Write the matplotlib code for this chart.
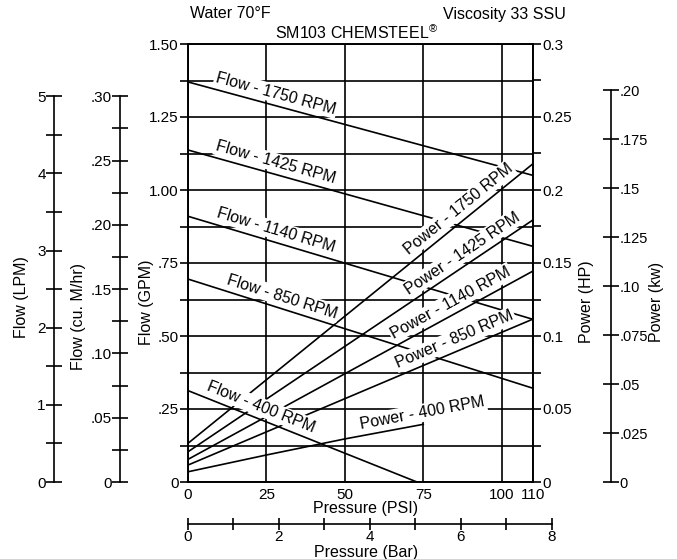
import matplotlib
matplotlib.use("Agg")
import matplotlib.pyplot as plt
import numpy as np

plt.rcParams["font.family"] = ["Liberation Sans", "DejaVu Sans"]

# flow curves: pressure (PSI) -> flow (GPM)
flow_psi = [0, 110]
flow_1750 = [1.37, 1.05]
flow_1425 = [1.137, 0.807]
flow_1140 = [0.91, 0.557]
flow_850 = [0.695, 0.321]
flow_400_psi = [0, 73]
flow_400 = [0.313, 0.0]

# power curves: pressure (PSI) -> power (HP)
power_psi = [0, 110]
power_1750 = [0.0265, 0.218]
power_1425 = [0.0207, 0.1795]
power_1140 = [0.0155, 0.1445]
power_850 = [0.0116, 0.1116]
power_400_psi = [0, 25, 50, 75]
power_400 = [0.007, 0.0185, 0.0295, 0.0395]

psi_ticks = [0, 25, 50, 75, 100, 110]
gpm_ticks = [0, 0.25, 0.5, 0.75, 1.0, 1.25, 1.5]
gpm_labels = ["0", ".25", ".50", ".75", "1.00", "1.25", "1.50"]
hp_ticks = [0, 0.05, 0.1, 0.15, 0.2, 0.25, 0.3]
hp_labels = ["0", "0.05", "0.1", "0.15", "0.2", "0.25", "0.3"]
lpm_ticks = [0, 1, 2, 3, 4, 5]
m3h_ticks = [0, 0.05, 0.10, 0.15, 0.20, 0.25, 0.30]
m3h_labels = ["0", ".05", ".10", ".15", ".20", ".25", ".30"]
kw_ticks = [0, 0.025, 0.05, 0.075, 0.10, 0.125, 0.15, 0.175, 0.20]
kw_labels = ["0", ".025", ".05", ".075", ".10", ".125", ".15", ".175", ".20"]
bar_ticks = [0, 2, 4, 6, 8]

LPM_PER_GPM = 3.7854
M3H_PER_GPM = 0.22712
KW_PER_HP = 0.7457
PSI_PER_BAR = 14.5038

W, H = 677, 559
LW = 1.2
FS = 11.5
TFS = 11


def px_rect(x0, y0, x1, y1):
    return [x0 / W, 1 - y1 / H, (x1 - x0) / W, (y1 - y0) / H]


fig = plt.figure(figsize=(W / 100, H / 100), dpi=100)
X0, X1, Y0, Y1 = 188, 533, 44, 482
ax = fig.add_axes(px_rect(X0, Y0, X1, Y1))
ax.set_xlim(0, 110)
ax.set_ylim(0, 1.5)
for s in ax.spines.values():
    s.set_linewidth(LW)
ax.set_xticks(psi_ticks)
ax.set_xticklabels([str(t) for t in psi_ticks])
ax.set_yticks(gpm_ticks)
ax.set_yticklabels(gpm_labels)
ax.set_yticks(np.arange(0.125, 1.5, 0.25), minor=True)
ax.tick_params(axis="x", length=0, pad=4, labelsize=TFS)
ax.tick_params(axis="y", which="both", direction="out", length=5.5,
               width=LW, labelsize=TFS, pad=1)
ax.grid(True, which="both", color="black", lw=LW)
ax.set_axisbelow(True)

for ys in [flow_1750, flow_1425, flow_1140, flow_850]:
    ax.plot(flow_psi, ys, color="black", lw=LW, zorder=2)
ax.plot(flow_400_psi, flow_400, color="black", lw=LW, zorder=2)

axp = ax.twinx()
axp.set_ylim(0, 0.3)
axp.set_yticks(hp_ticks)
axp.set_yticklabels(hp_labels)
axp.set_yticks(np.arange(0.025, 0.3, 0.05), minor=True)
axp.tick_params(axis="y", which="both", direction="out", length=5.5,
                width=LW, labelsize=TFS, pad=1.5)
for s in axp.spines.values():
    s.set_linewidth(LW)
for ys in [power_1750, power_1425, power_1140, power_850]:
    axp.plot(power_psi, ys, color="black", lw=LW, zorder=2)
axp.plot(power_400_psi, power_400, color="black", lw=LW, zorder=2)


def place_label(src, xs, ys, psi, text, off=3.0):
    y = np.interp(psi, xs, ys)
    i = min(max(np.searchsorted(xs, psi) - 1, 0), len(xs) - 2)
    p0 = src.transData.transform((xs[i], ys[i]))
    p1 = src.transData.transform((xs[i + 1], ys[i + 1]))
    ang = np.arctan2(p1[1] - p0[1], p1[0] - p0[0])
    axp.annotate(text, xy=(psi, y), xycoords=src.transData,
                 xytext=(-np.sin(ang) * off, np.cos(ang) * off),
                 textcoords="offset points", rotation=np.degrees(ang),
                 rotation_mode="anchor", ha="center", va="bottom",
                 fontsize=FS, zorder=6,
                 bbox=dict(fc="white", ec="none", pad=1.2))


place_label(ax, flow_psi, flow_1750, 27, "Flow - 1750 RPM")
place_label(ax, flow_psi, flow_1425, 27, "Flow - 1425 RPM")
place_label(ax, flow_psi, flow_1140, 27, "Flow - 1140 RPM")
place_label(ax, flow_psi, flow_850, 29, "Flow - 850 RPM")
place_label(ax, flow_400_psi, flow_400, 22, "Flow - 400 RPM")
place_label(axp, power_psi, power_1750, 88.5, "Power - 1750 RPM")
place_label(axp, power_psi, power_1425, 89.5, "Power - 1425 RPM")
place_label(axp, power_psi, power_1140, 85.5, "Power - 1140 RPM")
place_label(axp, power_psi, power_850, 86.5, "Power - 850 RPM")
place_label(axp, power_400_psi, power_400, 75.5, "Power - 400 RPM")


def side_axis(xpix, ymax, ticks, labels, minor, bound, right=False, size=TFS):
    a = fig.add_axes(px_rect(X0, Y0, X1, Y1))
    a.patch.set_visible(False)
    a.set_xticks([])
    a.set_ylim(0, ymax)
    side = "right" if right else "left"
    for name, s in a.spines.items():
        s.set_visible(name == side)
    sp = a.spines[side]
    sp.set_position(("axes", (xpix - X0) / (X1 - X0)))
    sp.set_linewidth(LW)
    sp.set_bounds(0, bound)
    if right:
        a.yaxis.tick_right()
    a.set_yticks(ticks)
    a.set_yticklabels(labels)
    a.set_yticks(minor, minor=True)
    a.tick_params(axis="y", which="both", direction="inout", length=11,
                  width=LW, labelsize=size, pad=0.5)
    return a


side_axis(54, 1.5 * LPM_PER_GPM, lpm_ticks, [str(t) for t in lpm_ticks],
          np.arange(0.5, 5, 1.0), 5)
side_axis(120, 1.5 * M3H_PER_GPM, m3h_ticks, m3h_labels,
          np.arange(0.025, 0.3, 0.05), 0.30)
side_axis(611, 0.3 * KW_PER_HP, kw_ticks, kw_labels, [], 0.20, right=True,
          size=10.5)

# pressure in bar, a separate scale under the PSI axis
bar_w = 8 * PSI_PER_BAR * (X1 - X0) / 110
ab = fig.add_axes(px_rect(X0, 522, X0 + bar_w, 524))
ab.patch.set_visible(False)
for name, s in ab.spines.items():
    s.set_visible(name == "bottom")
ab.spines["bottom"].set_linewidth(LW)
ab.set_xlim(0, 8)
ab.set_yticks([])
ab.set_xticks(bar_ticks)
ab.set_xticklabels([str(t) for t in bar_ticks])
ab.set_xticks([1, 3, 5, 7], minor=True)
ab.tick_params(axis="x", which="both", direction="inout", length=9,
               width=LW, labelsize=TFS, pad=0)

fig.text(366 / W, 1 - 508 / H, "Pressure (PSI)", ha="center", va="center", fontsize=FS)
fig.text(366 / W, 1 - 552 / H, "Pressure (Bar)", ha="center", va="center", fontsize=FS)
fig.text(22 / W, 1 - 297 / H, "Flow (LPM)", rotation=90, ha="center", va="center", fontsize=FS)
fig.text(79 / W, 1 - 317 / H, "Flow (cu. M/hr)", rotation=90, ha="center", va="center", fontsize=FS)
fig.text(146 / W, 1 - 302 / H, "Flow (GPM)", rotation=90, ha="center", va="center", fontsize=FS)
fig.text(587 / W, 1 - 302 / H, "Power (HP)", rotation=90, ha="center", va="center", fontsize=FS)
fig.text(656 / W, 1 - 302 / H, "Power (kw)", rotation=90, ha="center", va="center", fontsize=FS)

fig.text(190 / W, 1 - 14 / H, "Water 70°F", ha="left", va="center", fontsize=FS)
fig.text(443 / W, 1 - 14 / H, "Viscosity 33 SSU", ha="left", va="center", fontsize=FS)
fig.text(357 / W, 1 - 33 / H, r"SM103 CHEMSTEEL$^{\mathdefault{®}}$",
         ha="center", va="center", fontsize=FS)

fig.savefig("out.png", dpi=100, facecolor="white")
